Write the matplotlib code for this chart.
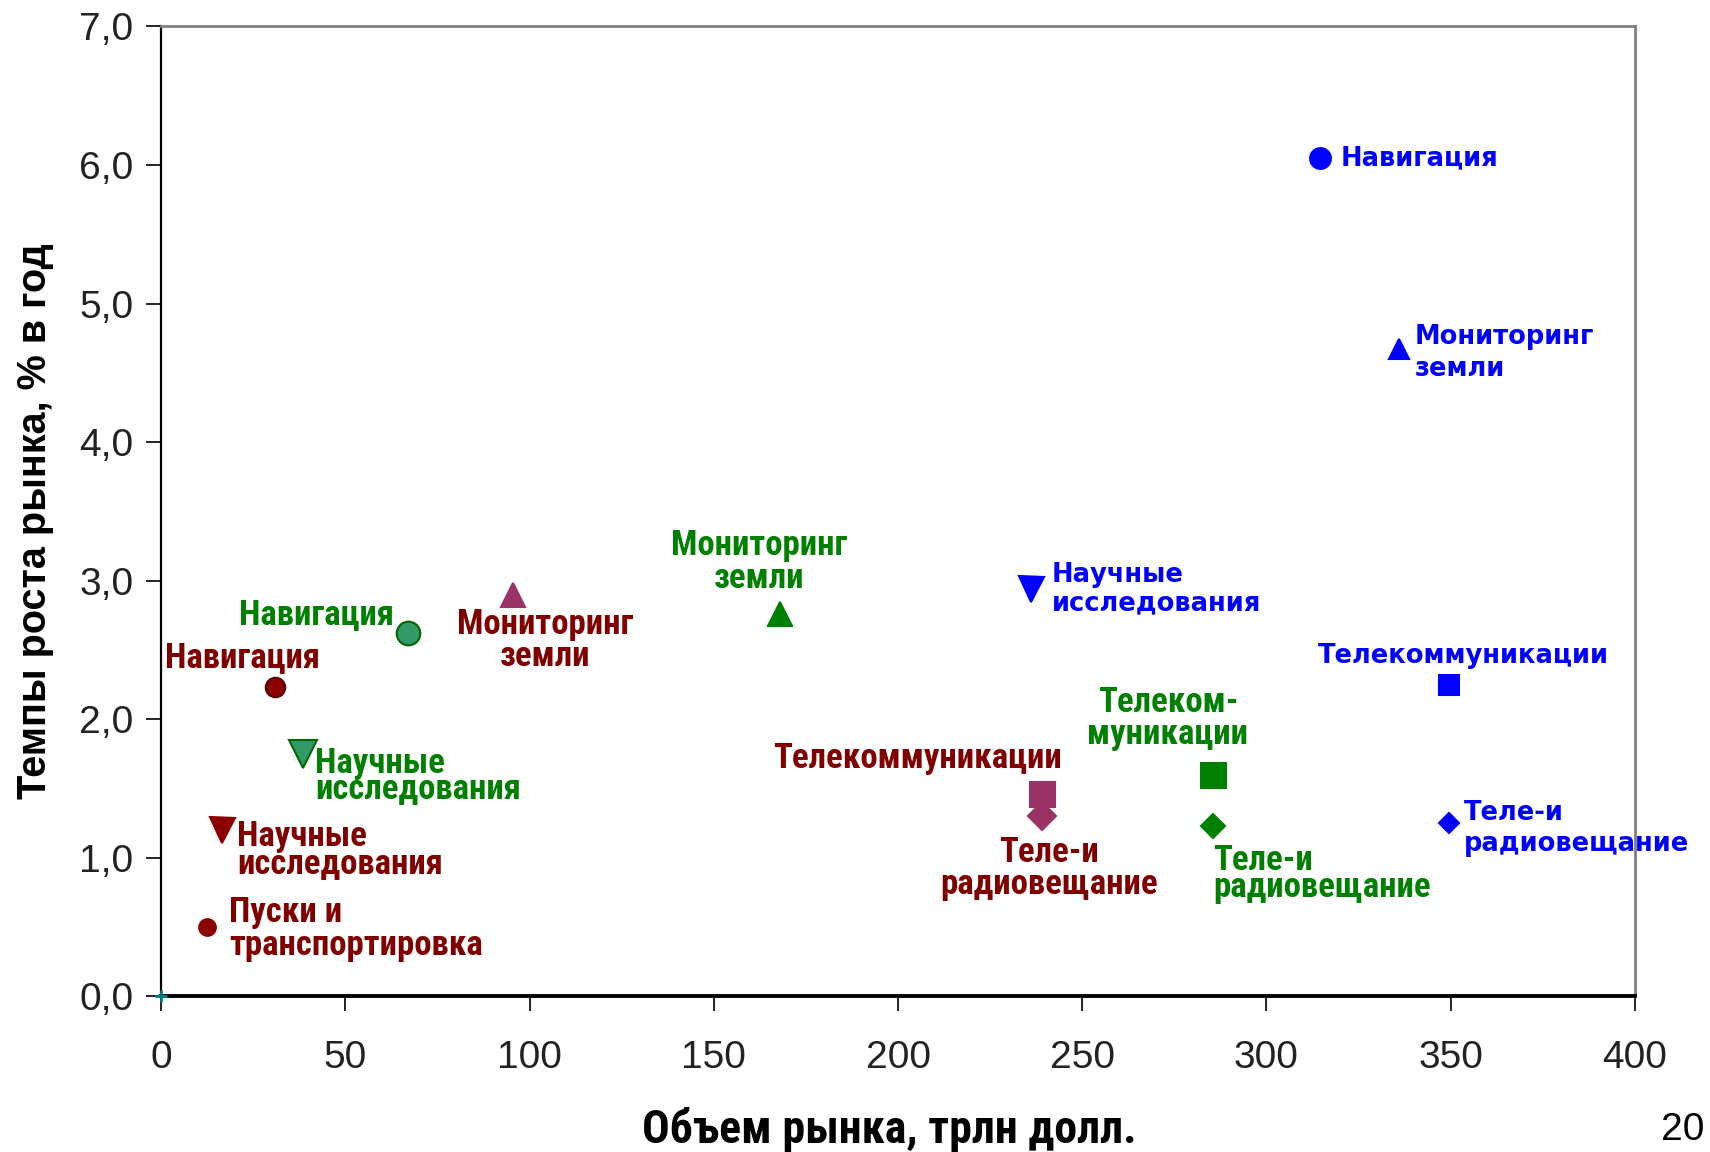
import numpy as np
import matplotlib.pyplot as plt
from matplotlib import font_manager
from matplotlib.ticker import FuncFormatter, MultipleLocator

# Точки: объем рынка (трлн долл.) и темпы роста (% в год)
labels = ['Навигация', 'Научные\nисследования', 'Пуски и\nтранспортировка',
          'Мониторинг\nземли', 'Телекоммуникации', 'Теле-и\nрадиовещание',
          'Навигация', 'Научные\nисследования', 'Мониторинг\nземли',
          'Телеком-\nмуникации', 'Теле-и\nрадиовещание',
          'Навигация', 'Мониторинг\nземли', 'Научные\nисследования',
          'Телекоммуникации', 'Теле-и\nрадиовещание', '']
x_vals = [31, 16.5, 12.5, 95.5, 239, 239,
          67, 38.5, 168, 285.5, 285.5,
          314.5, 336, 236, 349.5, 349.5, 0]
y_vals = [2.23, 1.20, 0.50, 2.90, 1.46, 1.30,
          2.62, 1.75, 2.76, 1.60, 1.23,
          6.05, 4.67, 2.94, 2.25, 1.25, 0.0]

# оформление точек
markers = ['o', 'v', 'o', '^', 's', 'D', 'o', 'v', '^', 's', 'D',
           'o', '^', 'v', 's', 'D', '+']
marker_colors = ['#8B0000', '#8B0000', '#8B0000', '#993366', '#993366', '#993366',
                 '#339966', '#339966', '#008000', '#008000', '#008000',
                 '#0000FF', '#0000FF', '#0000FF', '#0000FF', '#0000FF', '#008080']
marker_sizes = [14, 18, 12, 17, 18, 14, 17, 20, 17, 18, 12,
                15, 14, 18, 15, 10, 8]
text_colors = ['#800000'] * 6 + ['#008000'] * 5 + ['#0000FF'] * 6
# смещения подписей (в пикселях), выравнивание, межстрочный интервал
offsets = [(-33, 30), (15, -20), (22, -2), (32, -46), (-124, 36), (7, -52),
           (-14, 19), (12, -22), (-21, 52), (-45, 56), (0, -48),
           (21, 0), (16, -4), (21, 0), (15, 29), (15, -5), (0, 0)]
aligns = ['center', 'left', 'left', 'center', 'center', 'center',
          'right', 'left', 'center', 'center', 'left',
          'left', 'left', 'left', 'center', 'left', 'left']
spacings = [1.0, 0.79, 1.0, 0.97, 1.0, 0.97, 1.0, 0.72, 1.0, 0.97, 0.75,
            1.0, 1.3, 1.15, 1.0, 1.23, 1.0]

# узкий жирный шрифт, если есть
installed = {f.name for f in font_manager.fontManager.ttflist}
narrow_font = 'DejaVu Sans'
narrow_size = 19
for cand in ['Liberation Sans Narrow', 'Arial Narrow', 'Roboto Condensed',
             'Open Sans Condensed', 'PT Sans Narrow']:
    if cand in installed:
        narrow_font = cand
        narrow_size = 25
        break
narrow = [narrow_font, 'DejaVu Sans']
wide = ['DejaVu Sans']

fig = plt.figure(figsize=(17.1, 11.52), dpi=100)
ax = fig.add_axes([0.0943, 0.135, 0.8617, 0.842])

for i in range(len(x_vals)):
    edge = marker_colors[i]
    if i in (0, 6, 7):
        edge = '#5a0000' if i == 0 else '#006600'
    ax.plot(x_vals[i], y_vals[i], marker=markers[i], color=marker_colors[i],
            markeredgecolor=edge, markersize=marker_sizes[i],
            markeredgewidth=1.5 if markers[i] != '+' else 2, linestyle='none',
            clip_on=False, zorder=3)
    if labels[i]:
        blue = text_colors[i] == '#0000FF'
        ax.annotate(labels[i], (x_vals[i], y_vals[i]),
                    xytext=(offsets[i][0] * 0.72, offsets[i][1] * 0.72),
                    textcoords='offset points', ha=aligns[i], va='center',
                    multialignment=aligns[i],
                    color=text_colors[i], fontweight='bold',
                    family=wide if blue else narrow,
                    fontsize=18.5 if blue else narrow_size,
                    linespacing=spacings[i])

ax.set_xlim(0, 400)
ax.set_ylim(0, 7)
ax.xaxis.set_major_locator(MultipleLocator(50))
ax.yaxis.set_major_locator(MultipleLocator(1))
ax.yaxis.set_major_formatter(FuncFormatter(lambda v, p: f'{v:.1f}'.replace('.', ',')))

ax.tick_params(axis='both', direction='out', length=11, width=1.2, labelsize=28,
               colors='black')
ax.tick_params(axis='x', pad=20)
ax.tick_params(axis='y', pad=9)
for lab in ax.get_xticklabels() + ax.get_yticklabels():
    lab.set_family('Liberation Sans')
    lab.set_color('#222222')

ax.spines['left'].set_color('black')
ax.spines['left'].set_linewidth(1.6)
ax.spines['bottom'].set_color('black')
ax.spines['bottom'].set_linewidth(2.8)
ax.spines['top'].set_color('#808080')
ax.spines['top'].set_linewidth(2)
ax.spines['right'].set_color('#808080')
ax.spines['right'].set_linewidth(2)

ax.set_ylabel('Темпы роста рынка, % в год', fontsize=28.5, fontweight='bold',
              family='Liberation Sans', va='center')
ax.yaxis.set_label_coords(-0.0855, 0.49)
ax.set_xlabel('Объем рынка, трлн долл.', fontsize=33, fontweight='bold',
              family=narrow, va='center')
ax.xaxis.set_label_coords(0.494, -0.1376)
fig.text(0.984, 0.0191, '20', fontsize=28, family='Liberation Sans', ha='center',
         va='center')

plt.savefig('out.png', dpi=100)
